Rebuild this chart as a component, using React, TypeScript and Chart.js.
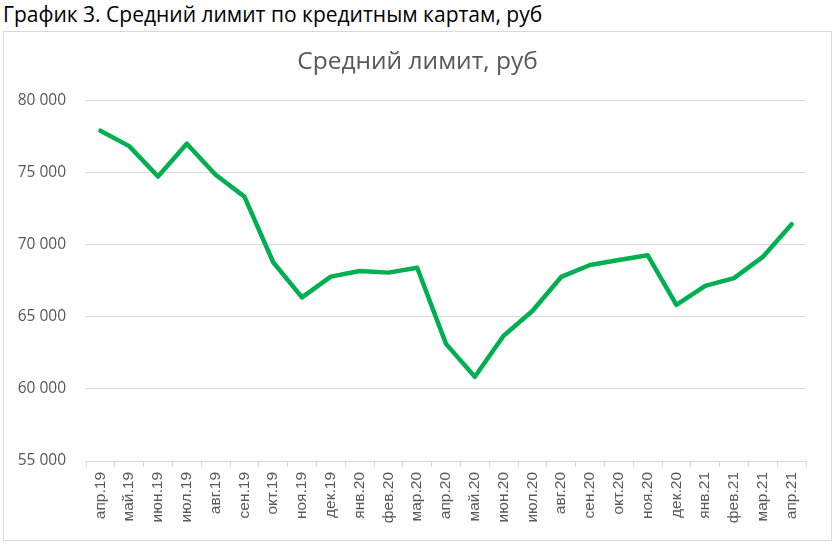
import { useEffect, useRef } from 'react';
import Chart from 'chart.js/auto';

const months = [
  'апр.19', 'май.19', 'июн.19', 'июл.19', 'авг.19', 'сен.19', 'окт.19', 'ноя.19', 'дек.19',
  'янв.20', 'фев.20', 'мар.20', 'апр.20', 'май.20', 'июн.20', 'июл.20', 'авг.20', 'сен.20',
  'окт.20', 'ноя.20', 'дек.20', 'янв.21', 'фев.21', 'мар.21', 'апр.21',
];

const avgLimit = [
  77900, 76830, 74720, 77000, 74840, 73330, 68780, 66340, 67780,
  68170, 68060, 68400, 63120, 60840, 63680, 65400, 67760, 68590,
  68930, 69270, 65830, 67140, 67680, 69150, 71420,
];

const yMin = 55000;
const yMax = 80000;
const yStep = 5000;

const pageTitle = 'График 3. Средний лимит по кредитным картам, руб';
const chartTitle = 'Средний лимит, руб';

// 80000 -> "80 000"
const fmt = (v: number) => String(Math.round(v)).replace(/\B(?=(\d{3})+(?!\d))/g, ' ');

export default function App() {
  const chartRef = useRef<HTMLCanvasElement | null>(null);
  const chartInstance = useRef<Chart | null>(null);

  useEffect(() => {
    document.body.style.margin = '0';
    if (!chartRef.current) return;
    if (chartInstance.current) chartInstance.current.destroy();

    const ctx = chartRef.current.getContext('2d');
    if (!ctx) return;

    chartInstance.current = new Chart(ctx, {
      type: 'line',
      data: {
        labels: months,
        datasets: [
          {
            label: chartTitle,
            data: avgLimit,
            borderColor: '#00b050',
            borderWidth: 4.5,
            pointRadius: 0,
            tension: 0,
            borderJoinStyle: 'round',
            borderCapStyle: 'round',
          },
        ],
      },
      options: {
        animation: false,
        responsive: false,
        maintainAspectRatio: false,
        layout: { padding: 0 },
        plugins: {
          legend: { display: false },
          tooltip: { enabled: false },
          title: {
            display: true,
            text: chartTitle,
            color: '#595959',
            font: { family: 'Open Sans', size: 24.5, weight: 'normal' },
            padding: { top: 15, bottom: 24 },
          },
        },
        scales: {
          x: {
            offset: true,
            grid: {
              offset: true,
              drawOnChartArea: false,
              drawTicks: true,
              tickLength: 6,
              color: '#d9d9d9',
            },
            border: { display: true, color: '#d9d9d9' },
            ticks: {
              color: '#595959',
              minRotation: 90,
              maxRotation: 90,
              autoSkip: false,
              padding: 5,
              font: { family: 'Liberation Sans', size: 15.5 },
            },
            afterFit: (scale: any) => {
              scale.height = 79;
            },
          },
          y: {
            min: yMin,
            max: yMax,
            grid: { color: '#d9d9d9', drawTicks: false },
            border: { display: false },
            ticks: {
              stepSize: yStep,
              padding: 20,
              color: '#595959',
              font: { family: 'Open Sans', size: 15.5 },
              callback: (v: any) => fmt(Number(v)),
            },
            afterFit: (scale: any) => {
              scale.width = 82;
            },
          },
          // empty right-hand strip so the title stays centred on the whole box
          yRight: {
            position: 'right',
            display: true,
            grid: { display: false },
            border: { display: false },
            ticks: { display: false },
            afterFit: (scale: any) => {
              scale.width = 25;
            },
          },
        },
      },
    });

    return () => {
      if (chartInstance.current) {
        chartInstance.current.destroy();
        chartInstance.current = null;
      }
    };
  }, []);

  return (
    <div style={{ position: 'relative', width: 836, height: 546, background: '#fff' }}>
      <div
        style={{
          position: 'absolute',
          left: 3,
          top: 0,
          fontFamily: 'Open Sans',
          fontSize: 21,
          color: '#000',
          whiteSpace: 'nowrap',
          lineHeight: '28px',
        }}
      >
        {pageTitle}
      </div>
      <div
        style={{
          position: 'absolute',
          left: 3,
          top: 31,
          width: 827,
          height: 508,
          border: '1px solid #d9d9d9',
        }}
      >
        <canvas ref={chartRef} width={827} height={508} />
      </div>
    </div>
  );
}
